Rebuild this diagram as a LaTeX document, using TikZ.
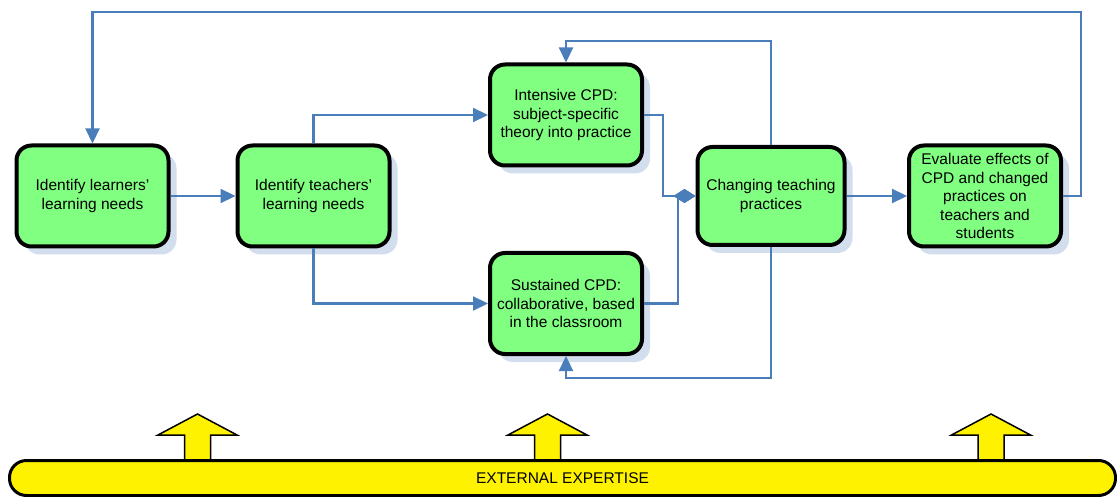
\documentclass[tikz,border=0pt]{standalone}
\usepackage{fontspec}
\setmainfont{Liberation Sans}
\usetikzlibrary{arrows.meta}
\usetikzlibrary{shadows}
\definecolor{stagegreen}{RGB}{128,255,128}
\definecolor{linkblue}{RGB}{74,126,187}
\definecolor{shadowblue}{RGB}{210,221,237}

\begin{document}
\begin{tikzpicture}[x=1pt,y=-1pt,
  stage/.style={draw,line width=4pt,rounded corners=15pt,fill=stagegreen,
    minimum width=152pt,minimum height=101pt,align=center,inner sep=2pt,
    font=\fontsize{15.5}{18.5}\selectfont,
    general shadow={fill=shadowblue,shadow xshift=8pt,shadow yshift=-8pt}},
  link/.style={draw=linkblue,line width=2.2pt,-{Triangle[length=15pt,width=14pt]}},
  merge/.style={draw=linkblue,line width=2.2pt,-{Diamond[length=22pt,width=14pt]}},
  boost/.style={draw,line width=1.5pt,fill=yellow,line join=miter}]
  \useasboundingbox (0,0) rectangle (1117,497);

  % stages
  \node[stage] (learners) at (92.5,196) {Identify learners'\\learning needs};
  \node[stage] (teachers) at (313.5,196) {Identify teachers'\\learning needs};
  \node[stage] (intensive) at (566,115) {Intensive CPD:\\subject-specific\\theory into practice};
  \node[stage] (sustained) at (566,303.5) {Sustained CPD:\\collaborative, based\\in the classroom};
  \node[stage,minimum width=147pt,minimum height=98pt] (changing) at (771,196) {Changing teaching\\practices};
  \node[stage] (evaluate) at (985,196) {Evaluate effects of\\CPD and changed\\practices on\\teachers and\\students};

  % links
  \draw[link] (learners) -- (teachers);
  \draw[link] (teachers.north) |- (intensive.west);
  \draw[link] (teachers.south) |- (sustained.west);
  \draw[merge] (intensive.east) -- ++(19,0) |- (changing.west);
  \draw[merge] (sustained.east) -- ++(34,0) |- (changing.west);
  \draw[link] (changing.north) -- ++(0,-104) -| (intensive.north);
  \draw[link] (changing.south) -- ++(0,131) -| (sustained.south);
  \draw[link] (changing) -- (evaluate);

  % feedback loop
  \coordinate (loopcorner) at (1081,12);
  \draw[link] (evaluate.east) -| (loopcorner) -| (learners.north);

  % expertise arrows
  \draw[boost] (197.5,414) -- ++(39.5,21) -- ++(-26.5,0) -- ++(0,26) -- ++(-26,0) -- ++(0,-26) -- ++(-26.5,0) -- cycle;
  \draw[boost] (547.5,414) -- ++(39.5,21) -- ++(-26.5,0) -- ++(0,26) -- ++(-26,0) -- ++(0,-26) -- ++(-26.5,0) -- cycle;
  \draw[boost] (991,414) -- ++(39.5,21) -- ++(-26.5,0) -- ++(0,26) -- ++(-26,0) -- ++(0,-26) -- ++(-26.5,0) -- cycle;

  % expertise bar
  \node[draw,line width=3pt,fill=yellow,rounded corners=17pt,minimum width=1106pt,
    minimum height=35pt,inner sep=0pt,font=\fontsize{15.5}{18.5}\selectfont]
    (expertise) at (562.5,478) {EXTERNAL EXPERTISE};
\end{tikzpicture}
\end{document}
